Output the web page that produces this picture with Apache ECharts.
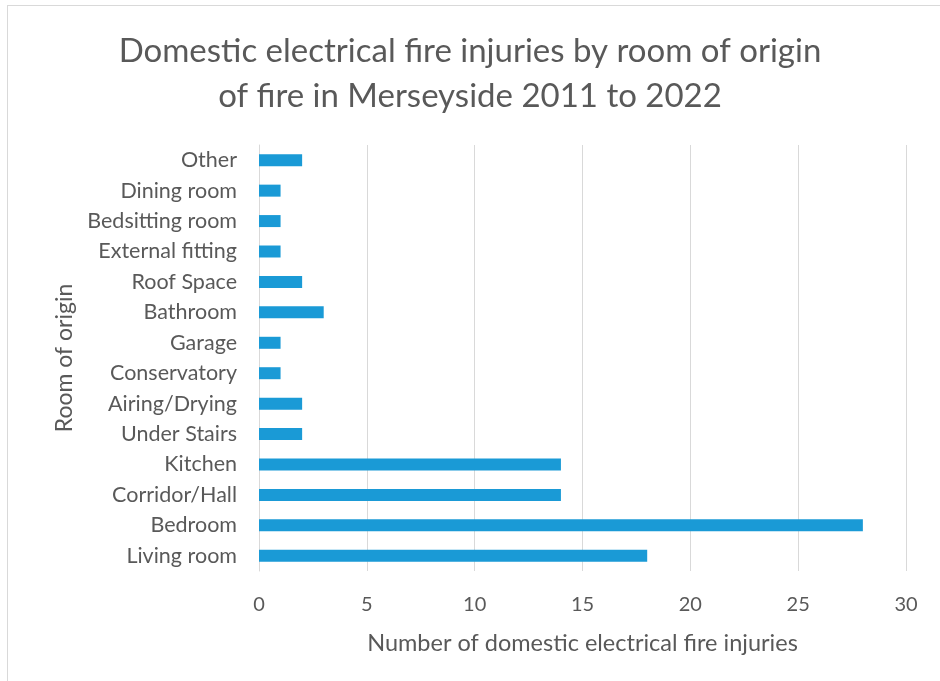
<!DOCTYPE html>
<html>
<head>
<meta charset="utf-8">
<script src="https://cdn.jsdelivr.net/npm/echarts@6/dist/echarts.min.js"></script>
<style>
  html, body { margin: 0; padding: 0; background: #ffffff; }
  #frame { position: absolute; left: 7px; top: 5px; width: 960px; height: 700px; border: 1px solid #d9d9d9; box-sizing: border-box; }
  #chart { position: absolute; left: 0; top: 0; width: 940px; height: 681px; }
</style>
</head>
<body>
<div id="frame"></div>
<div id="chart"></div>
<script>
// Rooms listed bottom-to-top as they appear on the category axis
const rooms = ['Living room', 'Bedroom', 'Corridor/Hall', 'Kitchen', 'Under Stairs', 'Airing/Drying',
  'Conservatory', 'Garage', 'Bathroom', 'Roof Space', 'External fitting', 'Bedsitting room',
  'Dining room', 'Other'];
const injuries = [18, 28, 14, 14, 2, 2, 1, 1, 3, 2, 1, 1, 1, 2];
const titleLines = ['Domestic electrical fire injuries by room of origin', 'of fire in Merseyside 2011 to 2022'];
const xAxisName = 'Number of domestic electrical fire injuries';
const yAxisName = 'Room of origin';

const font = 'Lato, "Open Sans", sans-serif';
const chart = echarts.init(document.getElementById('chart'), null, { renderer: 'canvas' });
chart.setOption({
  backgroundColor: 'transparent',
  animation: false,
  title: {
    text: titleLines.join('\n'),
    left: 'center',
    top: 24,
    textStyle: { fontFamily: font, fontSize: 33, fontWeight: 'normal', color: '#595959', lineHeight: 45 }
  },
  grid: { left: 259, right: 34, top: 145, bottom: 110, containLabel: false },
  xAxis: {
    type: 'value',
    min: 0, max: 30, interval: 5,
    name: xAxisName,
    nameLocation: 'middle',
    nameGap: 60,
    nameTextStyle: { fontFamily: font, fontSize: 23.5, color: '#595959' },
    axisLine: { show: false },
    axisTick: { show: false },
    axisLabel: { fontFamily: font, fontSize: 20, color: '#595959', margin: 24 },
    splitLine: { lineStyle: { color: '#d9d9d9', width: 1 } }
  },
  yAxis: {
    type: 'category',
    data: rooms,
    name: yAxisName,
    nameLocation: 'middle',
    nameGap: 158,
    nameRotate: 90,
    nameTextStyle: { fontFamily: font, fontSize: 23, color: '#595959' },
    axisLine: { show: true, lineStyle: { color: '#d9d9d9', width: 1 } },
    axisTick: { show: false },
    axisLabel: { fontFamily: font, fontSize: 21.5, color: '#595959', margin: 22 }
  },
  series: [{
    type: 'bar',
    data: injuries,
    barWidth: 12,
    itemStyle: { color: '#1a9ad6' }
  }]
});
</script>
</body>
</html>
